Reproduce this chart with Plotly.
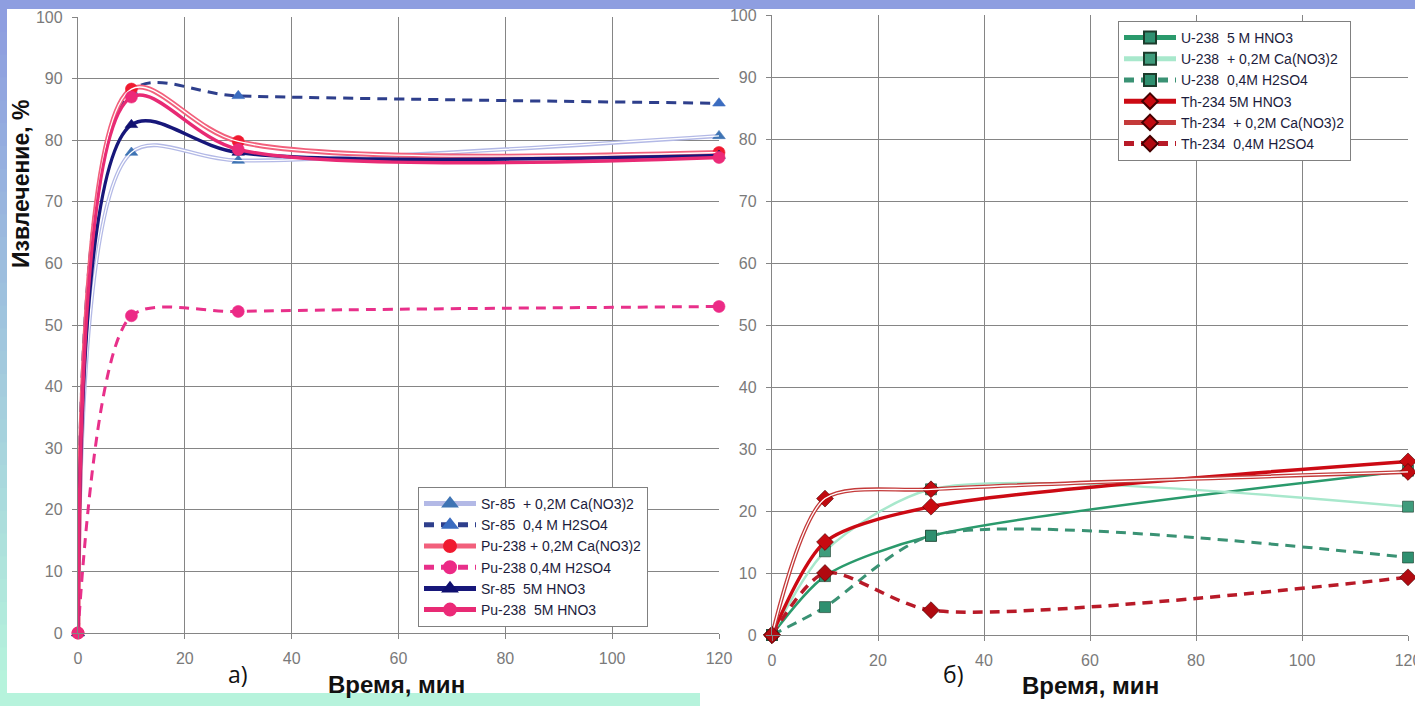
import plotly.graph_objects as go

# ---------------- data ----------------
time_a = [0, 10, 30, 120]
sr_ca = [0, 78, 76.7, 80.7]
sr_h2so4 = [0, 88, 87.2, 86]
pu_ca = [0, 88.3, 79.8, 78]
pu_h2so4 = [0, 51.5, 52.2, 53]
sr_hno3 = [0, 82.5, 78, 77.5]
pu_hno3 = [0, 87, 78.5, 77.2]

time_b = [0, 10, 30, 120]
u_hno3 = [0, 9.5, 16, 26.5]
u_ca = [0, 13.5, 23.5, 20.7]
u_h2so4 = [0, 4.5, 16, 12.5]
th_hno3 = [0, 15, 20.7, 28]
th_ca = [0, 22, 23.5, 26.3]
th_h2so4 = [0, 10, 4, 9.3]

x_ticks = [0, 20, 40, 60, 80, 100, 120]
y_ticks = [0, 10, 20, 30, 40, 50, 60, 70, 80, 90, 100]

names_a = ["Sr-85  + 0,2M Ca(NO3)2", "Sr-85  0,4 M H2SO4", "Pu-238 + 0,2M Ca(NO3)2",
           "Pu-238 0,4M H2SO4", "Sr-85  5M HNO3", "Pu-238  5M HNO3"]
names_b = ["U-238  5 M HNO3", "U-238  + 0,2M Ca(NO3)2", "U-238  0,4M H2SO4",
           "Th-234 5M HNO3", "Th-234  + 0,2M Ca(NO3)2", "Th-234  0,4M H2SO4"]

W, H = 1415, 706


def px(x):
    return x / W


def py(y):
    return (H - y) / H


fig = go.Figure()


def add(x, y, name, color, width, dash, symbol, mcolor, msize, xa, ya, leg, smooth,
        double=False, mline="#333"):
    nm = name.replace(" ", "\u00a0")
    fig.add_trace(go.Scatter(
        x=x, y=y, name=nm, mode="lines+markers",
        line=dict(color=color, width=width, dash=dash, shape="spline", smoothing=smooth),
        marker=dict(symbol=symbol, color=mcolor, size=msize, line=dict(color=mline, width=0.6)),
        xaxis=xa, yaxis=ya, legend=leg, cliponaxis=False))
    if double:
        fig.add_trace(go.Scatter(
            x=x, y=y, mode="lines", showlegend=False, hoverinfo="skip",
            line=dict(color="white", width=1.3, shape="spline", smoothing=smooth),
            xaxis=xa, yaxis=ya, cliponaxis=False))


SA = 0.9
SB = 0.75
# panel a
add(time_a, sr_ca, names_a[0], "#b3b9e6", 4, "solid", "triangle-up", "#3f74b4", 11, "x", "y", "legend", SA, True, "#3f74b4")
add(time_a, sr_h2so4, names_a[1], "#2e3f8c", 3, "10px,7px", "triangle-up", "#3b6cc0", 11, "x", "y", "legend", SA, False, "#3b6cc0")
add(time_a, pu_ca, names_a[2], "#f2607c", 5, "solid", "circle", "#f01a30", 12, "x", "y", "legend", SA, True, "#f01a30")
add(time_a, pu_h2so4, names_a[3], "#e8308a", 3, "10px,7px", "circle", "#ec2a86", 12, "x", "y", "legend", 0.75, False, "#ec2a86")
add(time_a, sr_hno3, names_a[4], "#17177a", 3.5, "solid", "triangle-up", "#101070", 11, "x", "y", "legend", SA, False, "#101070")
add(time_a, pu_hno3, names_a[5], "#e82a74", 3.5, "solid", "circle", "#ec2a78", 12, "x", "y", "legend", SA, False, "#ec2a78")

# panel b
add(time_b, u_hno3, names_b[0], "#2a9a6c", 2.5, "solid", "square", "#2f9070", 11, "x2", "y2", "legend2", SB, False, "#1c3c2c")
add(time_b, u_ca, names_b[1], "#a8e8cc", 2.5, "solid", "square", "#3f9c7c", 11, "x2", "y2", "legend2", SB, False, "#1c3c2c")
add(time_b, u_h2so4, names_b[2], "#3a9274", 3, "10px,7px", "square", "#2f9070", 11, "x2", "y2", "legend2", SB, False, "#1c3c2c")
add(time_b, th_hno3, names_b[3], "#cc0a14", 3.5, "solid", "diamond", "#c80a10", 13, "x2", "y2", "legend2", SB, False, "#400")
add(time_b, th_ca, names_b[4], "#c43a3a", 4, "solid", "diamond", "#c00a10", 13, "x2", "y2", "legend2", SB, True, "#400")
add(time_b, th_h2so4, names_b[5], "#b81a28", 3.5, "10px,7px", "diamond", "#b00a10", 13, "x2", "y2", "legend2", SB, False, "#400")

axis_common = dict(
    showgrid=True, gridcolor="#858585", gridwidth=1.3,
    showline=True, linecolor="#858585", linewidth=1.3, mirror=False,
    ticks="outside", ticklen=5, tickcolor="#858585", ticklabelstandoff=6,
    ticklabeloverflow="allow",
    tickfont=dict(family="Liberation Sans, Arial", size=16, color="#7a7a7a"),
    zeroline=False, fixedrange=True, automargin=False,
)

shapes = []
# top band
shapes.append(dict(type="rect", xref="paper", yref="paper", x0=0, x1=1, y0=py(9), y1=1,
                   fillcolor="#8e9ee0", line=dict(width=0), layer="above"))
# bottom mint strip under left panel
shapes.append(dict(type="rect", xref="paper", yref="paper", x0=0, x1=px(700), y0=0, y1=py(693),
                   fillcolor="#b6f3dc", line=dict(width=0), layer="above"))
# left gradient strip
n = 30
c0 = (0x8e, 0x9e, 0xe0)
c1 = (0xb6, 0xf3, 0xdc)
for i in range(n):
    t = i / (n - 1)
    c = tuple(int(c0[k] + (c1[k] - c0[k]) * t) for k in range(3))
    ytop = 9 + (693 - 9) * i / n
    ybot = 9 + (693 - 9) * (i + 1) / n + 1
    shapes.append(dict(type="rect", xref="paper", yref="paper", x0=0, x1=px(7),
                       y0=py(min(ybot, 706)), y1=py(ytop),
                       fillcolor="rgb(%d,%d,%d)" % c, line=dict(width=0), layer="above"))
shapes.append(dict(type="rect", xref="paper", yref="paper", x0=0, x1=px(7), y0=0, y1=py(693),
                   fillcolor="#b6f3dc", line=dict(width=0), layer="above"))


def ann(text, x, y, size, family, angle=0):
    return dict(text=text, textangle=angle, x=px(x), y=py(y), xref="paper", yref="paper",
                xanchor="center", yanchor="middle", showarrow=False,
                font=dict(family=family, size=size, color="#111"))


annotations = [
    ann("<b>Извлечение, %</b>", 21, 184, 23, "Liberation Sans, Arial", -90),
    ann("<b>Время, мин</b>", 396, 684, 24, "Liberation Sans, Arial"),
    ann("<b>Время, мин</b>", 1090, 685, 24, "Liberation Sans, Arial"),
    ann("а)", 238, 674, 23, "Open Sans"),
    ann("б)", 953, 674, 23, "Open Sans"),
]

legend_common = dict(
    bgcolor="white", bordercolor="#808080", borderwidth=1,
    font=dict(family="Liberation Sans, Arial", size=14, color="#1c1c3c"),
    itemwidth=52, itemsizing="constant", xanchor="left", yanchor="top", tracegroupgap=0,
)

fig.update_layout(
    template="none",
    width=W, height=H, margin=dict(l=0, r=0, t=0, b=0, autoexpand=False),
    paper_bgcolor="white", plot_bgcolor="white",
    showlegend=True,
    xaxis=dict(axis_common, domain=[px(78), px(719)], range=[0, 120], tickvals=x_ticks, anchor="y"),
    yaxis=dict(axis_common, domain=[py(633), py(17)], range=[0, 100], tickvals=y_ticks, anchor="x"),
    xaxis2=dict(axis_common, domain=[px(772), px(1408)], range=[0, 120], tickvals=x_ticks, anchor="y2"),
    yaxis2=dict(axis_common, domain=[py(635), py(15)], range=[0, 100], tickvals=y_ticks, anchor="x2"),
    legend=dict(legend_common, x=px(418), y=py(487)),
    legend2=dict(legend_common, x=px(1118), y=py(21)),
    shapes=shapes,
    annotations=annotations,
)

fig.write_html("out.html")
